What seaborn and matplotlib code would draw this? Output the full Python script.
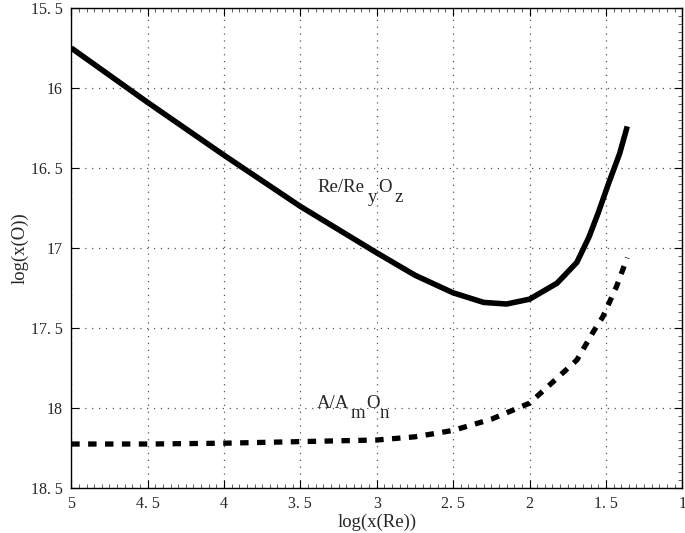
import numpy as np
import pandas as pd
import matplotlib
matplotlib.use("Agg")
import matplotlib.pyplot as plt
import seaborn as sns
from matplotlib.ticker import FuncFormatter, MultipleLocator

# solid curve: Re/ReyOz
x_re = [5.0, 4.5, 4.0, 3.5, 3.0, 2.75, 2.5, 2.3, 2.15, 2.0, 1.82, 1.69, 1.61, 1.55, 1.48, 1.41, 1.36]
y_re = [15.75, 16.09, 16.42, 16.74, 17.03, 17.17, 17.28, 17.34, 17.35, 17.32, 17.22, 17.09, 16.93, 16.78, 16.59, 16.41, 16.24]

# dashed curve: A/AmOn
x_a = [5.0, 4.5, 4.0, 3.5, 3.0, 2.75, 2.5, 2.25, 2.0, 1.85, 1.69, 1.58, 1.52, 1.43, 1.36]
y_a = [18.225, 18.225, 18.22, 18.21, 18.20, 18.18, 18.14, 18.07, 17.97, 17.84, 17.70, 17.52, 17.43, 17.24, 17.06]

x_ticks = [5, 4.5, 4, 3.5, 3, 2.5, 2, 1.5, 1]
y_ticks = [15.5, 16, 16.5, 17, 17.5, 18, 18.5]

# curve labels, pieces alternate normal / lowered
lab_re = ["Re/Re", "y", "O", "z"]
lab_a = ["A/A", "m", "O", "n"]

sns.set_style("ticks")
plt.rcParams['font.family'] = ['Liberation Serif', 'DejaVu Serif']

fig = plt.figure(figsize=(6.85, 5.33), dpi=100)
ax = fig.add_axes([0.104, 0.0844, 0.892, 0.9006])

df_re = pd.DataFrame({"x": x_re, "y": y_re})
df_a = pd.DataFrame({"x": x_a, "y": y_a})

sns.lineplot(data=df_re, x="x", y="y", ax=ax, color="black", lw=4.0,
             sort=False, solid_joinstyle="round", solid_capstyle="butt")
sns.lineplot(data=df_a, x="x", y="y", ax=ax, color="black", lw=3.8,
             sort=False, linestyle=(0, (1.6, 1.6)))

ax.set_xlim(5, 1)
ax.set_ylim(18.5, 15.5)
ax.set_xticks(x_ticks)
ax.set_yticks(y_ticks)


def fmt(v, pos):
    s = ("%g" % v)
    return s.replace(".", ". ")


ax.xaxis.set_major_formatter(FuncFormatter(fmt))
ax.yaxis.set_major_formatter(FuncFormatter(fmt))
ax.xaxis.set_minor_locator(MultipleLocator(0.05))
ax.yaxis.set_minor_locator(MultipleLocator(0.05))

ax.tick_params(which="major", direction="in", length=6, width=0.8, color="black",
               labelsize=11.5, top=True, right=True, pad=6)
ax.tick_params(which="minor", direction="in", length=3, width=0.6, color="#444444",
               top=True, bottom=True, right=True, left=False)

ax.grid(True, which="major", color="#555555", linestyle=(0, (1, 4.5)), linewidth=0.9)

for sp in ax.spines.values():
    sp.set_color("black")
    sp.set_linewidth(1.0)

ax.set_xlabel("log(x(Re))", fontsize=13.5, labelpad=1)
ax.set_ylabel("log(x(O))", fontsize=13.5)
ax.yaxis.set_label_coords(-0.07, 0.5)


def chain_label(x, y, parts, gaps):
    t = ax.text(x, y, parts[0], fontsize=13.5, va="baseline", ha="left")
    drop = -10
    for i, p in enumerate(parts[1:]):
        dy = drop if i % 2 == 0 else -drop
        t = ax.annotate(p, xy=(1, 0), xycoords=t, xytext=(gaps[i], dy),
                        textcoords="offset pixels", fontsize=13.5,
                        va="bottom", ha="left")


chain_label(3.39, 16.65, lab_re, [4, 1, 2])
chain_label(3.39, 18.0, lab_a, [1, 1, 0])

fig.savefig("out.png", dpi=100)
